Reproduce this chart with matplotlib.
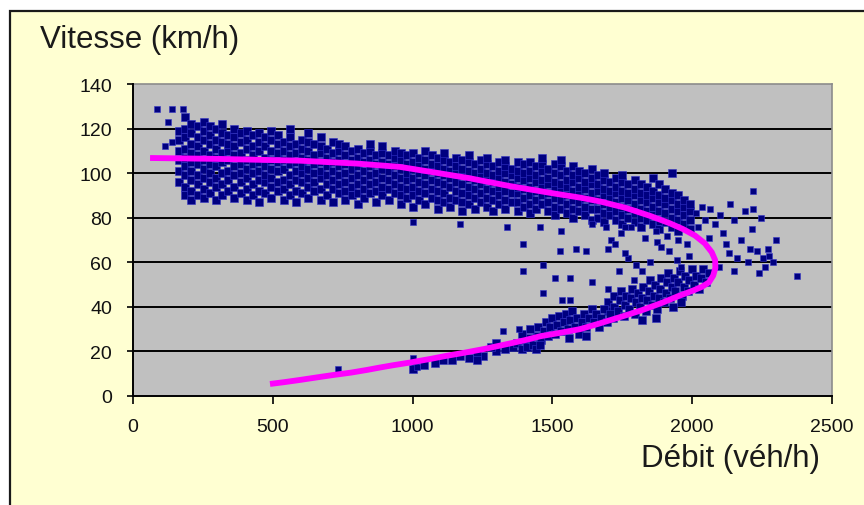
import matplotlib
matplotlib.use("Agg")
import matplotlib.pyplot as plt
from matplotlib.patches import Rectangle

plt.rcParams['font.family'] = ['Liberation Sans', 'DejaVu Sans']

# ---- Data (flow veh/h, speed km/h) ----
# Fitted curve (magenta)
curve_flow = [61, 300, 597, 800, 955, 1069, 1200, 1348, 1500, 1600, 1670, 1760, 1850,
              1920, 1967, 2010, 2045, 2070, 2082, 2083, 2075, 2060, 2035, 2003, 1950,
              1896, 1820, 1742, 1670, 1599, 1530, 1456, 1400, 1338, 1260, 1180, 1120,
              1062, 990, 930, 884, 837, 780, 715, 650, 597, 540, 490]
curve_speed = [106.8, 106.4, 105.6, 104.3, 102.8, 100.5, 97.8, 94.2, 91.0, 89.0, 87.3, 84.5, 80.8,
               77.5, 74.9, 72.0, 68.5, 64.5, 61.0, 57.5, 54.0, 51.0, 49.0, 47.3, 44.8,
               42.0, 38.5, 35.4, 32.6, 30.0, 28.4, 26.8, 25.0, 23.3, 21.2, 19.3, 18.0,
               16.6, 15.0, 13.8, 12.8, 11.7, 10.5, 9.4, 8.2, 7.2, 6.2, 5.4]

# Measurements, upper (free-flow) branch, by flow column
band_a = [
    (165, [96, 101, 106, 110, 115, 119]),
    (187, [90, 94, 99, 103, 107, 111, 116, 120, 125]),
    (209, [88, 92, 97, 101, 105, 109, 113, 118, 122]),
    (231, [90, 95, 99, 104, 108, 112, 116, 121]),
    (253, [89, 93, 98, 102, 106, 110, 115, 119, 123]),
    (275, [91, 96, 100, 104, 108, 113, 117, 121]),
    (297, [88, 94, 98, 103, 107, 111, 115, 120]),
    (319, [90, 95, 100, 105, 109, 114, 118, 122]),
    (341, [92, 97, 101, 106, 110, 113, 117]),
    (363, [89, 94, 99, 103, 108, 112, 116, 120]),
    (385, [91, 96, 100, 104, 109, 114, 118]),
]
band_b = [
    (407, [88, 93, 98, 102, 106, 111, 115, 119]),
    (429, [90, 95, 100, 104, 108, 112, 117]),
    (451, [87, 92, 97, 101, 105, 110, 114, 118]),
    (473, [91, 96, 99, 103, 107, 112, 116]),
    (495, [89, 94, 98, 102, 106, 110, 115, 119]),
    (517, [92, 96, 101, 105, 109, 113, 117]),
    (539, [88, 93, 97, 102, 106, 110, 114]),
    (561, [90, 95, 99, 104, 108, 112, 116, 120]),
    (583, [87, 92, 97, 101, 105, 109, 113]),
    (605, [91, 96, 100, 103, 107, 111, 115]),
    (627, [89, 94, 98, 102, 106, 110, 114, 118]),
    (649, [92, 96, 100, 104, 108, 113]),
    (671, [88, 93, 98, 101, 105, 109, 112, 116]),
    (693, [90, 95, 99, 103, 107, 111]),
    (715, [87, 93, 97, 101, 105, 109, 114]),
    (737, [91, 95, 99, 103, 106, 110, 113]),
]
band_c = [
    (760, [88, 92, 96, 100, 104, 108, 112]),
    (782, [90, 94, 98, 102, 106, 110]),
    (804, [86, 91, 95, 99, 103, 107, 111]),
    (826, [89, 93, 97, 101, 105, 109]),
    (848, [91, 95, 99, 103, 106, 110, 113]),
    (870, [87, 92, 96, 100, 104, 108]),
    (892, [90, 94, 98, 102, 105, 109, 112]),
    (914, [88, 93, 97, 101, 104, 108]),
    (936, [91, 95, 99, 103, 107, 110]),
    (958, [86, 90, 94, 98, 102, 106, 109]),
    (980, [89, 93, 97, 100, 104, 108]),
]
band_d = [
    (1002, [85, 90, 94, 98, 102, 105, 109]),
    (1024, [88, 92, 96, 100, 103, 107]),
    (1046, [86, 91, 95, 99, 102, 106, 110]),
    (1068, [89, 93, 97, 101, 104, 108]),
    (1090, [84, 88, 92, 96, 100, 103, 107]),
    (1112, [87, 91, 95, 99, 102, 106, 109]),
    (1134, [85, 89, 94, 98, 101, 105]),
    (1156, [88, 92, 96, 100, 103, 107]),
    (1178, [83, 87, 91, 95, 99, 102, 106]),
    (1200, [86, 90, 94, 98, 101, 105, 108]),
    (1222, [84, 89, 93, 97, 100, 104]),
    (1244, [87, 91, 95, 99, 102, 106]),
    (1266, [85, 89, 93, 97, 100, 104, 107]),
    (1288, [83, 88, 92, 96, 99, 103]),
    (1310, [86, 90, 94, 98, 101, 105]),
    (1332, [84, 88, 92, 96, 100, 103, 106]),
    (1354, [87, 91, 95, 99, 102]),
    (1376, [83, 87, 91, 94, 98, 101, 105]),
]
band_e = [
    (1398, [85, 89, 93, 97, 100, 104]),
    (1420, [82, 86, 90, 94, 98, 101, 105]),
    (1442, [84, 88, 92, 96, 99, 103]),
    (1464, [86, 90, 94, 97, 101, 104, 107]),
    (1486, [83, 87, 91, 95, 98, 102]),
    (1508, [81, 85, 89, 93, 96, 100, 104]),
    (1530, [84, 88, 92, 95, 99, 103, 106]),
    (1552, [82, 86, 90, 94, 97, 101]),
    (1574, [80, 84, 88, 92, 96, 99, 103]),
    (1596, [83, 87, 91, 94, 98, 101]),
    (1618, [81, 85, 89, 93, 96, 100]),
    (1640, [79, 84, 88, 91, 95, 98, 102]),
]
band_f = [
    (1662, [80, 84, 88, 92, 95, 99]),
    (1684, [78, 82, 86, 90, 93, 97, 100]),
    (1706, [81, 85, 89, 92, 96]),
    (1728, [79, 83, 87, 91, 94, 98]),
    (1750, [77, 81, 85, 89, 92, 96, 99]),
    (1772, [80, 84, 88, 91, 95]),
    (1794, [78, 82, 86, 90, 93, 97]),
    (1816, [76, 80, 84, 88, 91, 95]),
    (1838, [79, 83, 87, 90, 94]),
    (1860, [77, 81, 85, 89, 92, 98]),
    (1882, [75, 79, 83, 87, 90, 95]),
    (1904, [78, 82, 86, 89, 93]),
    (1926, [76, 80, 84, 88, 91, 100]),
    (1948, [74, 79, 83, 86, 90]),
    (1970, [77, 81, 85, 88]),
    (1992, [75, 79, 83, 86]),
]

# Scattered measurements (flow, speed)
sparse_pts = [
    (86, 129), (139, 129), (179, 129), (125, 123), (114, 112), (140, 114),
    (2015, 82), (2020, 76), (2035, 85), (2045, 79), (2060, 71), (2065, 84), (2080, 77),
    (2100, 81), (2110, 73), (2120, 68), (2135, 86), (2150, 79), (2160, 62), (2175, 70),
    (2190, 83), (2200, 60), (2215, 75), (2230, 65), (2245, 80), (2260, 58), (2275, 63),
    (2290, 60), (2300, 70), (2375, 54), (2240, 55), (2205, 66), (2130, 64), (2095, 58),
    (2150, 56), (2218, 92), (2218, 84), (2270, 66), (2255, 62),
    (1395, 68), (1527, 65), (1585, 66), (1620, 65), (1467, 59), (1395, 56), (1509, 53),
    (1563, 53), (1642, 51), (1467, 46), (1563, 43), (1535, 43), (1323, 29), (1382, 30),
    (1710, 70), (1725, 68), (1746, 73), (1770, 62), (1800, 59), (1739, 56), (1793, 52),
    (1870, 74), (1875, 69), (1890, 67), (1917, 65), (1945, 61), (1690, 76), (1700, 66),
    (1760, 64), (1780, 76), (1830, 71), (1880, 78), (1910, 72), (1950, 70), (1980, 68),
    (1990, 63), (1960, 58), (1850, 60), (1820, 56), (1700, 48),
    (1002, 78), (1170, 77), (1338, 76), (1456, 76), (1530, 74), (1640, 77), (1760, 76),
    (734, 12), (1000, 17), (1015, 13),
]

# Lower (congested) branch
lower_pts = [
    (1700, 38), (1700, 42), (1715, 35), (1720, 40), (1720, 45), (1735, 38), (1740, 43),
    (1745, 47), (1755, 36), (1760, 41), (1765, 45), (1775, 39), (1780, 44), (1785, 48),
    (1795, 37), (1800, 42), (1805, 46), (1815, 40), (1820, 44), (1825, 49), (1835, 38),
    (1840, 43), (1845, 47), (1850, 52), (1858, 41), (1862, 45), (1868, 50), (1875, 39),
    (1880, 44), (1885, 48), (1890, 53), (1900, 42), (1905, 46), (1910, 51), (1915, 55),
    (1920, 44), (1928, 49), (1935, 53), (1940, 47), (1950, 51), (1955, 56), (1962, 45),
    (1970, 49), (1975, 54), (1985, 47), (1990, 52), (1998, 57), (2005, 50), (2015, 54),
    (2025, 48), (2030, 53), (2040, 57), (2050, 51), (1930, 40), (1960, 42), (1870, 35),
    (1820, 34), (2060, 55),
    (1445, 27), (1450, 31), (1460, 25), (1470, 29), (1478, 33), (1485, 27), (1492, 31),
    (1500, 35), (1510, 28), (1515, 32), (1525, 36), (1530, 29), (1540, 33), (1548, 37),
    (1555, 30), (1562, 34), (1570, 38), (1580, 31), (1588, 35), (1595, 28), (1605, 33),
    (1612, 37), (1620, 31), (1630, 35), (1640, 39), (1648, 33), (1655, 37), (1665, 31),
    (1675, 35), (1685, 39), (1695, 33), (1705, 37), (1560, 26), (1620, 27),
    (1360, 22), (1375, 24), (1390, 21), (1400, 25), (1410, 22), (1420, 26), (1430, 23),
    (1440, 21), (1455, 23), (1330, 21), (1300, 20), (1280, 22), (1250, 18), (1230, 19),
    (1200, 17), (1170, 18), (1140, 16), (1110, 16), (1080, 15), (1040, 14), (1010, 15),
    (1000, 12), (1230, 16), (1300, 24), (1390, 28), (1420, 30),
]

x_ticks = [0, 500, 1000, 1500, 2000, 2500]
y_ticks = [0, 20, 40, 60, 80, 100, 120, 140]

# ---- Flatten ----
band_x, band_y = [], []
for band in (band_a, band_b, band_c, band_d, band_e, band_f):
    for fl, speeds in band:
        for sp in speeds:
            band_x.append(fl)
            band_y.append(sp)

# ---- Figure ----
W, H = 864, 506
fig = plt.figure(figsize=(W / 100, H / 100), dpi=100)
fig.patch.set_facecolor('white')
fig.patches.append(Rectangle((10 / W, -0.05), 1.1, (H - 12) / H + 0.05,
                             transform=fig.transFigure, facecolor='#FFFFD2',
                             edgecolor='#1a1a1a', linewidth=1.6, zorder=-10))

ax = fig.add_axes([133 / W, (H - 397) / H, (832 - 133) / W, (397 - 85) / H])
ax.set_zorder(5)
ax.set_facecolor('#C0C0C0')
ax.set_xlim(0, 2500)
ax.set_ylim(0, 140)
ax.set_xticks(x_ticks)
ax.set_yticks(y_ticks)
ax.set_xticklabels([str(v) for v in x_ticks])
ax.set_yticklabels([str(v) for v in y_ticks])

for v in y_ticks[1:-1]:
    ax.axhline(v, color='black', linewidth=1.4, zorder=1)

mk = dict(marker='s', facecolor='#000080', edgecolor='#3434c8', linewidth=0.4, zorder=2)
ax.scatter(band_x, band_y, s=30, **mk)
ax.scatter([p[0] for p in lower_pts], [p[1] for p in lower_pts], s=27, **mk)
ax.scatter([p[0] for p in sparse_pts], [p[1] for p in sparse_pts], s=13, **mk)
ax.plot(curve_flow, curve_speed, color='#FF00FF', linewidth=4.2,
        solid_capstyle='butt', solid_joinstyle='round', zorder=3)

for side in ('top', 'right'):
    ax.spines[side].set_color('#8c8c8c')
    ax.spines[side].set_linewidth(1.2)
for side in ('left', 'bottom'):
    ax.spines[side].set_color('black')
    ax.spines[side].set_linewidth(1.4)
    ax.spines[side].set_zorder(4)

ax.tick_params(axis='y', direction='out', length=4, width=1.2, pad=11,
               labelsize=14, colors='black', labelcolor='#111111')
ax.tick_params(axis='x', direction='out', length=6, width=1.2, pad=10,
               labelsize=14, colors='black', labelcolor='#111111')

fig.text(40 / W, 1 - 40 / H, 'Vitesse (km/h)', fontsize=22.5, color='#1a1a1a',
         ha='left', va='center')
fig.text(820 / W, 1 - 459 / H, 'Débit (véh/h)', fontsize=22.5, color='#1a1a1a',
         ha='right', va='center')

fig.savefig('out.png', dpi=100, facecolor=fig.get_facecolor())
